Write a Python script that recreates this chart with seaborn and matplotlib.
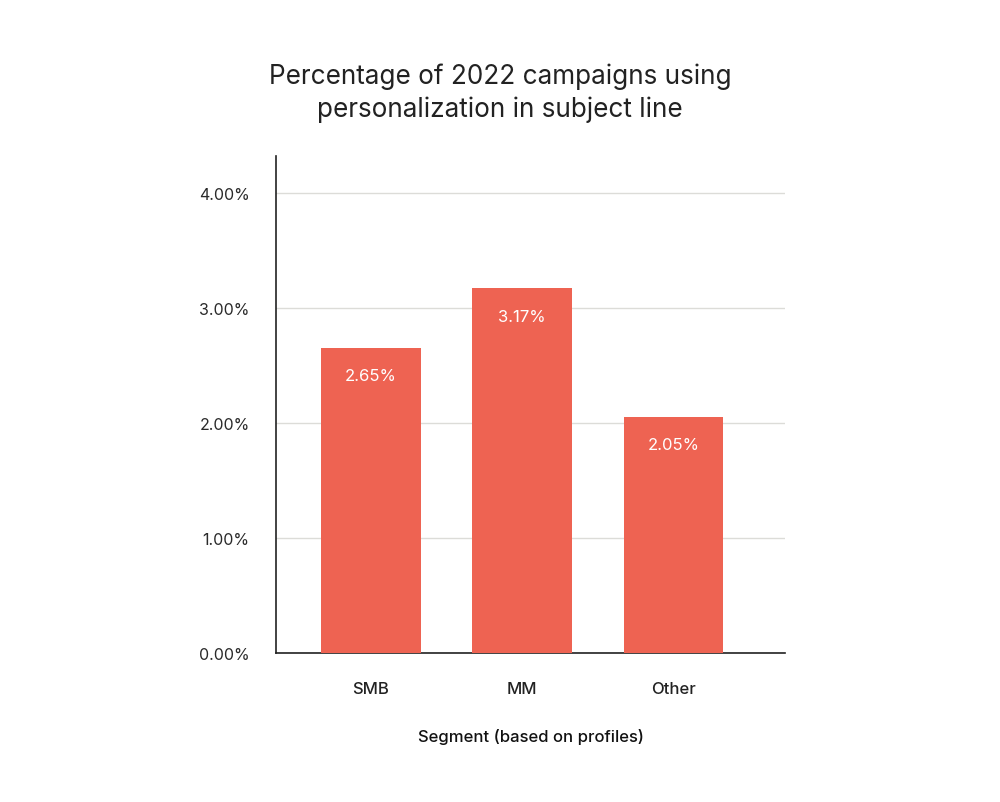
import matplotlib
matplotlib.use("Agg")
import matplotlib.pyplot as plt
import seaborn as sns
import pandas as pd

segments = ["SMB", "MM", "Other"]
values = [2.65, 3.17, 2.05]
value_labels = ["2.65%", "3.17%", "2.05%"]
yticks = [0, 1, 2, 3, 4]
ytick_labels = ["0.00%", "1.00%", "2.00%", "3.00%", "4.00%"]

sns.set_theme(style="white")
plt.rcParams["font.family"] = ["Inter", "DejaVu Sans"]

df = pd.DataFrame({"segment": segments, "value": values})

fig = plt.figure(figsize=(10, 8.03), dpi=100)
ax = fig.add_axes([0.276, 0.1856, 0.509, 0.619])

sns.barplot(data=df, x="segment", y="value", color="#EE6352", saturation=1,
            width=0.66, linewidth=0, ax=ax, zorder=3)

ax.set_xlim(-0.624, 2.736)
ax.set_ylim(0, 4.32)
ax.set_yticks(yticks)
ax.set_yticklabels(ytick_labels, fontsize=11.5, color="#2a2a2a")
ax.tick_params(axis="y", length=0, pad=19)
ax.tick_params(axis="x", length=0, pad=20, labelsize=12, labelcolor="#222222")
for lab in ax.get_xticklabels():
    lab.set_fontweight("medium")

ax.grid(axis="y", color="#dcdcd8", linewidth=1, zorder=0)
ax.grid(axis="x", visible=False)
for side in ["top", "right"]:
    ax.spines[side].set_visible(False)
for side in ["left", "bottom"]:
    ax.spines[side].set_color("#222222")
    ax.spines[side].set_linewidth(1.2)

ax.set_xlabel("Segment (based on profiles)", fontsize=12, fontweight="medium",
              color="#111111", labelpad=23)
ax.set_ylabel("")

for i, (v, lab) in enumerate(zip(values, value_labels)):
    ax.annotate(lab, xy=(i, v), xytext=(0, -20), textcoords="offset points",
                ha="center", va="center", color="white", fontsize=12, zorder=4)

fig.text(0.5, 0.884, "Percentage of 2022 campaigns using\npersonalization in subject line",
         ha="center", va="center", fontsize=18.8, color="#222222", linespacing=1.3)

fig.savefig("out.png", dpi=100, facecolor="white")
